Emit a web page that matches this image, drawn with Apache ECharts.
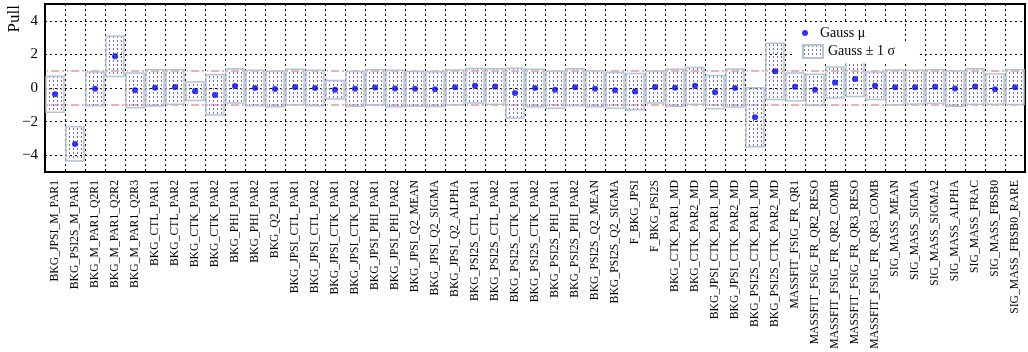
<!DOCTYPE html>
<html><head><meta charset="utf-8">
<script src="https://cdn.jsdelivr.net/npm/echarts@6/dist/echarts.min.js"></script>
<style>html,body{margin:0;padding:0;background:#fff}#c{width:1028px;height:352px}</style>
</head><body><div id="c"></div>
<script>
const categories = [
  'BKG_JPSI_M_PAR1','BKG_PSI2S_M_PAR1','BKG_M_PAR1_Q2R1','BKG_M_PAR1_Q2R2','BKG_M_PAR1_Q2R3',
  'BKG_CTL_PAR1','BKG_CTL_PAR2','BKG_CTK_PAR1','BKG_CTK_PAR2','BKG_PHI_PAR1','BKG_PHI_PAR2','BKG_Q2_PAR1',
  'BKG_JPSI_CTL_PAR1','BKG_JPSI_CTL_PAR2','BKG_JPSI_CTK_PAR1','BKG_JPSI_CTK_PAR2','BKG_JPSI_PHI_PAR1',
  'BKG_JPSI_PHI_PAR2','BKG_JPSI_Q2_MEAN','BKG_JPSI_Q2_SIGMA','BKG_JPSI_Q2_ALPHA',
  'BKG_PSI2S_CTL_PAR1','BKG_PSI2S_CTL_PAR2','BKG_PSI2S_CTK_PAR1','BKG_PSI2S_CTK_PAR2',
  'BKG_PSI2S_PHI_PAR1','BKG_PSI2S_PHI_PAR2','BKG_PSI2S_Q2_MEAN','BKG_PSI2S_Q2_SIGMA',
  'F_BKG_JPSI','F_BKG_PSI2S','BKG_CTK_PAR1_MD','BKG_CTK_PAR2_MD','BKG_JPSI_CTK_PAR1_MD',
  'BKG_JPSI_CTK_PAR2_MD','BKG_PSI2S_CTK_PAR1_MD','BKG_PSI2S_CTK_PAR2_MD',
  'MASSFIT_FSIG_FR_QR1','MASSFIT_FSIG_FR_QR2_RESO','MASSFIT_FSIG_FR_QR2_COMB',
  'MASSFIT_FSIG_FR_QR3_RESO','MASSFIT_FSIG_FR_QR3_COMB',
  'SIG_MASS_MEAN','SIG_MASS_SIGMA','SIG_MASS_SIGMA2','SIG_MASS_ALPHA','SIG_MASS_FRAC',
  'SIG_MASS_FBSB0','SIG_MASS_FBSB0_RARE'
];
const gaussMu = [
  -0.37, -3.33, -0.05, 1.89, -0.14,
  0.01, 0.06, -0.19, -0.41, 0.12, 0.00, -0.06,
  0.06, 0.00, -0.10, -0.05, 0.03,
  -0.03, -0.05, -0.07, 0.04,
  0.13, 0.09, -0.30, 0.00,
  -0.11, 0.04, -0.05, -0.13,
  -0.21, 0.06, 0.02, 0.13, -0.25,
  0.00, -1.74, 0.99,
  0.07, -0.11, 0.33,
  0.53, 0.13,
  0.04, 0.05, 0.08, -0.03, 0.09,
  -0.07, 0.05
];
const gaussSigma = [
  1.07, 1.02, 1.00, 1.20, 1.03,
  1.08, 1.03, 0.55, 1.20, 1.02, 1.05, 1.05,
  1.05, 1.06, 0.55, 1.03, 1.06,
  1.09, 1.03, 1.03, 1.03,
  1.03, 1.05, 1.48, 1.12,
  1.10, 1.10, 1.07, 1.07,
  1.08, 0.95, 1.10, 1.09, 0.99,
  1.13, 1.75, 1.68,
  0.83, 0.93, 0.92,
  1.03, 0.82,
  1.03, 1.00, 1.00, 1.05, 1.05,
  0.90, 1.03
];
const refLines = [1, -1];

const cv = document.createElement('canvas');
cv.width = 4; cv.height = 4;
const cx = cv.getContext('2d');
cx.fillStyle = '#6b6bff';
cx.fillRect(1, 0, 1, 2);
const pattern = {image: cv, repeat: 'repeat'};

const serif = 'Liberation Serif';
const frame = {show: true, onZero: false, lineStyle: {color: '#000', width: 2}};
const dotted = {color: '#000', width: 1, type: [2, 3]};
const fmt = v => (v % 2 === 0 ? String(v).replace('-', '\u2212') : '');

const chart = echarts.init(document.getElementById('c'));
chart.setOption({
  animation: false,
  grid: {left: 45, right: 3, top: 4, bottom: 180, containLabel: false, outerBoundsMode: 'none'},
  xAxis: [
    {type: 'category', data: categories, position: 'bottom', boundaryGap: true,
     axisLine: frame,
     axisTick: {inside: true, length: 6, interval: 0, lineStyle: {color: '#000'}},
     axisLabel: {interval: 0, rotate: 90, margin: 8, fontFamily: serif, fontSize: 11.7, color: '#000'},
     splitLine: {show: true, interval: 0, lineStyle: dotted}},
    {type: 'category', data: categories, position: 'top', boundaryGap: true,
     axisLine: frame,
     axisTick: {inside: true, length: 6, interval: 0, lineStyle: {color: '#000'}},
     axisLabel: {show: false}, splitLine: {show: false}}
  ],
  yAxis: [
    {type: 'value', min: -5, max: 5, splitNumber: 5, position: 'left',
     axisLine: frame,
     axisTick: {inside: true, length: 15, lineStyle: {color: '#000'}},
     axisLabel: {formatter: fmt, showMinLabel: false, showMaxLabel: false,
                 fontFamily: serif, fontSize: 15, color: '#000', margin: 7},
     splitLine: {show: true, lineStyle: dotted}},
    {type: 'value', min: -5, max: 5, interval: 0.5, position: 'left',
     axisLine: frame,
     axisTick: {inside: true, length: 8, lineStyle: {color: '#000'}},
     axisLabel: {show: false}, splitLine: {show: false}},
    {type: 'value', min: -5, max: 5, splitNumber: 5, position: 'right',
     axisLine: frame,
     axisTick: {inside: true, length: 15, lineStyle: {color: '#000'}},
     axisLabel: {show: false}, splitLine: {show: false}},
    {type: 'value', min: -5, max: 5, interval: 0.5, position: 'right',
     axisLine: frame,
     axisTick: {inside: true, length: 8, lineStyle: {color: '#000'}},
     axisLabel: {show: false}, splitLine: {show: false}}
  ],
  legend: [
    {data: [{name: 'Gauss \u03bc', icon: 'circle'}], left: 794, top: 22,
     padding: [4, 30, 3, 8], backgroundColor: '#fff',
     itemWidth: 20, itemHeight: 6,
     textStyle: {fontFamily: serif, fontSize: 14, color: '#000'}},
    {data: [{name: 'Gauss \u00b1 1 \u03c3', icon: 'rect'}], left: 794, top: 42,
     padding: [2, 22, 4, 8], backgroundColor: '#fff',
     itemWidth: 20, itemHeight: 13,
     textStyle: {fontFamily: serif, fontSize: 14, color: '#000'}}
  ],
  graphic: [
    {type: 'text', left: 6, top: 5, rotation: Math.PI / 2,
     style: {text: 'Pull', font: '17px "Liberation Serif"', fill: '#000'}}
  ],
  series: [
    {type: 'custom', name: 'Gauss \u00b1 1 \u03c3', xAxisIndex: 0, yAxisIndex: 0, z: 3,
     data: categories.map((c, i) => [i, gaussMu[i] - gaussSigma[i], gaussMu[i] + gaussSigma[i]]),
     encode: {x: 0, y: [1, 2]},
     itemStyle: {color: pattern, borderColor: '#b5c3d3', borderWidth: 1.5},
     renderItem: (params, api) => {
       const i = api.value(0);
       const lo = api.coord([i, api.value(1)]);
       const hi = api.coord([i, api.value(2)]);
       const w = api.size([1, 0])[0] * 0.9;
       return {type: 'rect',
               shape: {x: lo[0] - w / 2, y: hi[1], width: w, height: lo[1] - hi[1]},
               style: {fill: pattern, stroke: '#b5c3d3', lineWidth: 1.5}};
     },
     markLine: {silent: true, symbol: 'none', label: {show: false}, z: 2,
       lineStyle: {color: '#e39a9a', width: 1.5, type: [8, 3, 2, 3, 1, 3], dashOffset: 14},
       data: refLines.map(v => ({yAxis: v}))}
    },
    {type: 'scatter', name: 'Gauss \u03bc', xAxisIndex: 0, yAxisIndex: 0, z: 5,
     data: categories.map((c, i) => [i, gaussMu[i]]),
     symbolSize: 6, itemStyle: {color: '#0000ff'}}
  ]
});
</script></body></html>
